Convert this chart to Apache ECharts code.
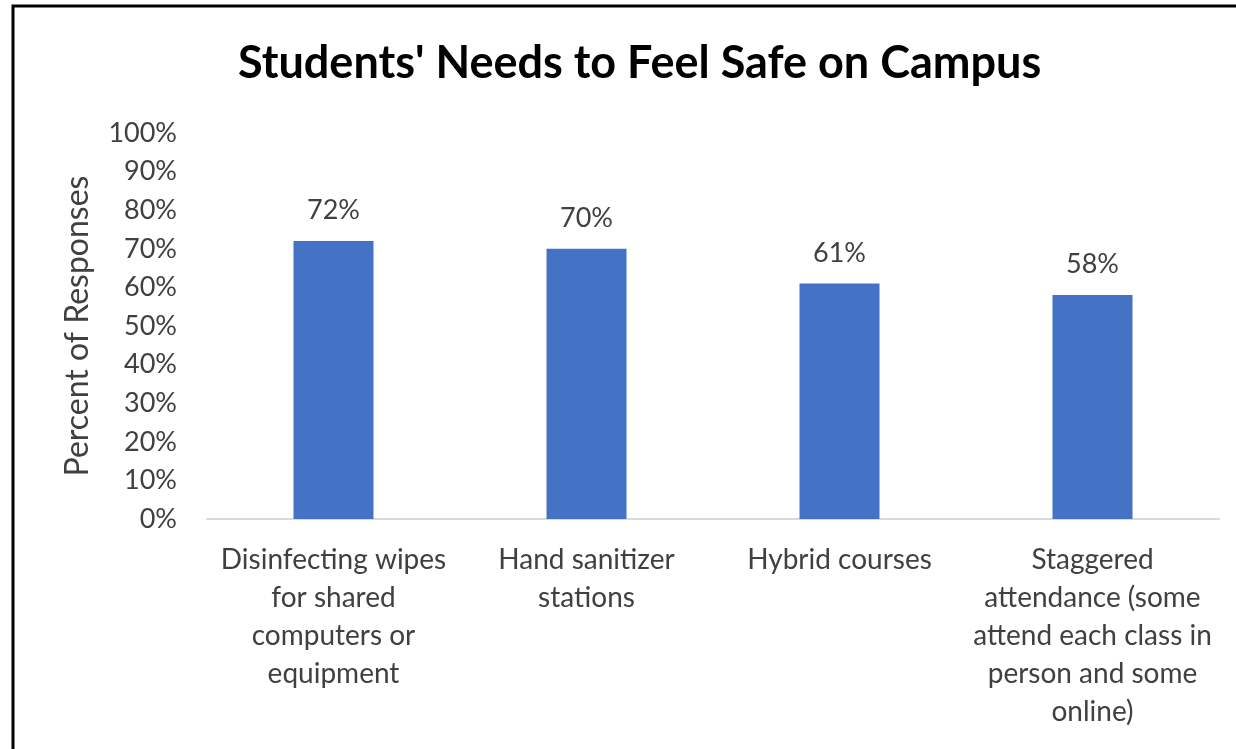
<!DOCTYPE html>
<html>
<head>
<meta charset="utf-8">
<script src="https://cdn.jsdelivr.net/npm/echarts@6/dist/echarts.min.js"></script>
<style>
html,body{margin:0;padding:0;background:#fff;}
#c{width:1236px;height:749px;}
</style>
</head>
<body>
<div id="c"></div>
<script>
const title = "Students' Needs to Feel Safe on Campus";
const categories = [
  "Disinfecting wipes\nfor shared\ncomputers or\nequipment",
  "Hand sanitizer\nstations",
  "Hybrid courses",
  "Staggered\nattendance (some\nattend each class in\nperson and some\nonline)"
];
const values = [72, 70, 61, 58];
const yAxisName = "Percent of Responses";

const font = "Lato, 'Open Sans', sans-serif";
const chart = echarts.init(document.getElementById('c'), null, {renderer: 'canvas'});
chart.setOption({
  backgroundColor: '#fff',
  animation: false,
  title: {
    text: title,
    left: 233,
    top: 36,
    textStyle: {fontFamily: font, fontSize: 45, fontWeight: 'bold', color: '#000'}
  },
  graphic: [{
    type: 'rect',
    shape: {x: 13, y: 6, width: 1400, height: 900},
    style: {fill: 'none', stroke: '#000', lineWidth: 3},
    silent: true
  }],
  grid: {left: 207, right: 17, top: 133, bottom: 230, containLabel: false},
  xAxis: {
    type: 'category',
    data: categories,
    axisLine: {lineStyle: {color: '#d9d9d9', width: 2}},
    axisTick: {show: false},
    axisLabel: {
      interval: 0,
      fontFamily: font, fontSize: 28, color: '#404040',
      lineHeight: 38, margin: 22, align: 'center'
    }
  },
  yAxis: {
    type: 'value',
    min: 0, max: 100, interval: 10,
    name: yAxisName,
    nameLocation: 'middle',
    nameGap: 113,
    nameTextStyle: {fontFamily: font, fontSize: 32, color: '#404040'},
    axisLine: {show: false},
    axisTick: {show: false},
    splitLine: {show: false},
    axisLabel: {
      formatter: '{value}%',
      fontFamily: font, fontSize: 27, color: '#404040', margin: 30
    }
  },
  series: [{
    type: 'bar',
    data: values,
    barWidth: 80,
    itemStyle: {color: '#4472C4'},
    label: {
      show: true, position: 'top', distance: 17,
      formatter: '{c}%',
      fontFamily: font, fontSize: 27, color: '#404040'
    }
  }]
});
</script>
</body>
</html>
